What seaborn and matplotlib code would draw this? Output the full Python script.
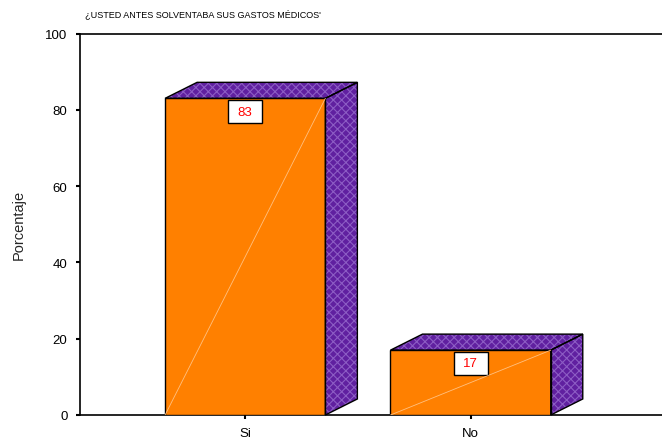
import matplotlib
matplotlib.use("Agg")
import matplotlib.pyplot as plt
import seaborn as sns
import pandas as pd
from matplotlib.patches import Polygon, Rectangle

categories = ["Si", "No"]
porcentajes = [83, 17]
yticks = [0, 20, 40, 60, 80, 100]
title = "¿USTED ANTES SOLVENTABA SUS GASTOS MÉDICOS'"
ylabel = "Porcentaje"

sns.set_theme(style="white")
plt.rcParams["font.family"] = ["Liberation Sans", "DejaVu Sans"]
plt.rcParams["hatch.linewidth"] = 0.8

fig = plt.figure(figsize=(6.62, 4.39), dpi=100)
W, H = 662, 439
ax = fig.add_axes([80 / W, (H - 416) / H, (662 - 80) / W, (416 - 34.5) / H])

df = pd.DataFrame({"cat": categories, "pct": porcentajes})
bar_w = 0.711
sns.barplot(data=df, x="cat", y="pct", color="#FF8000", saturation=1,
            width=bar_w, edgecolor="black", linewidth=1.0, ax=ax, zorder=3)

ax.set_xlim(-0.733, 1.849)
ax.set_ylim(0, 100)
ax.set_yticks(yticks)
ax.set_xlabel("")
ax.set_ylabel(ylabel, fontsize=10.5, labelpad=14)

# 3D depth offsets in data units
dx = 0.142
dy = 4.2
purple = "#6020a0"
for i, v in enumerate(porcentajes):
    x0, x1 = i - bar_w / 2, i + bar_w / 2
    top = [(x0, v), (x1, v), (x1 + dx, v + dy), (x0 + dx, v + dy)]
    side = [(x1, 0), (x1 + dx, dy), (x1 + dx, v + dy), (x1, v)]
    for pts in (top, side):
        ax.add_patch(Polygon(pts, closed=True, facecolor=purple,
                             edgecolor="#8c5cc4", hatch="xxxx",
                             linewidth=0, zorder=2, clip_on=False))
        ax.add_patch(Polygon(pts, closed=True, facecolor="none",
                             edgecolor="black", linewidth=1.0, zorder=4,
                             clip_on=False))
    # value label box
    bw, bh = 0.151, 6.0
    ax.add_patch(Rectangle((i - bw / 2, v - 0.5 - bh), bw, bh,
                           facecolor="white", edgecolor="black",
                           linewidth=1.0, zorder=5))
    ax.text(i, v - 0.5 - bh / 2, f"{v}", ha="center", va="center",
            color="red", fontsize=9.5, zorder=7)
    # faint diagonal across the front face
    ax.plot([x0, x1], [0, v], color="#ffc080", linewidth=0.6, zorder=6)

ax.spines["right"].set_visible(False)
for s in ["left", "top", "bottom"]:
    ax.spines[s].set_visible(True)
    ax.spines[s].set_color("black")
    ax.spines[s].set_linewidth(1.2)

ax.tick_params(axis="both", which="major", direction="out", length=3,
               width=1.5, color="black", labelsize=9.5, pad=6,
               left=True, bottom=True)
for lab in ax.get_yticklabels() + ax.get_xticklabels():
    lab.set_color("black")

fig.text(85 / W, 1 - 14 / H, title, fontsize=6.5, ha="left", va="center",
         color="black")

fig.savefig("out.png", dpi=100)
